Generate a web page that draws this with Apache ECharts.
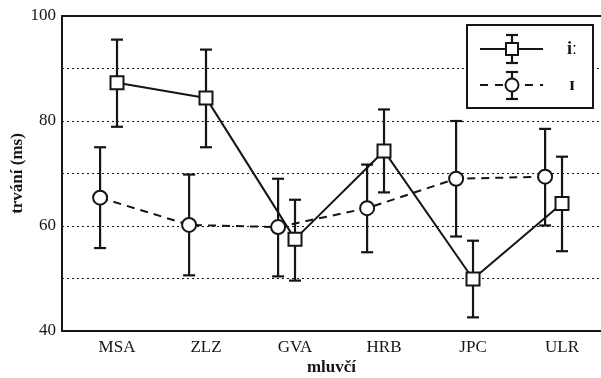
<!DOCTYPE html>
<html>
<head>
<meta charset="utf-8">
<script src="https://cdn.jsdelivr.net/npm/echarts@6/dist/echarts.min.js"></script>
<style>html,body{margin:0;padding:0;background:#fff;}#c{width:601px;height:378px;}</style>
</head>
<body>
<div id="c"></div>
<script>
const categories = ['MSA', 'ZLZ', 'GVA', 'HRB', 'JPC', 'ULR'];
const longI = [87.3, 84.4, 57.5, 74.3, 49.9, 64.3];
const longILow = [78.9, 75.0, 49.6, 66.4, 42.6, 55.2];
const longIHigh = [95.5, 93.6, 65.0, 82.2, 57.2, 73.2];
const shortI = [65.4, 60.2, 59.8, 63.4, 69.0, 69.4];
const shortILow = [55.8, 50.6, 50.4, 55.0, 58.0, 60.1];
const shortIHigh = [75.0, 69.8, 69.0, 71.7, 80.0, 78.5];
const yTickLabels = [40, 60, 80, 100];
const seriesNames = ['iː', 'ɪ'];

const FONT = 'Liberation Serif';
const INK = '#151515';
const SHIFT = -0.19; // horizontal offset of the ɪ series (style)

const catPos = categories.map((c, i) => i + 1);
const longData = longI.map((v, i) => [catPos[i], v]);
const shortData = shortI.map((v, i) => [catPos[i] + SHIFT, v]);
const longErr = longI.map((v, i) => [catPos[i], longILow[i], longIHigh[i]]);
const shortErr = shortI.map((v, i) => [catPos[i] + SHIFT, shortILow[i], shortIHigh[i]]);

function errRender(params, api) {
  const x = api.value(0);
  const lo = api.coord([x, api.value(1)]);
  const hi = api.coord([x, api.value(2)]);
  const hw = 6;
  const st = { stroke: INK, lineWidth: 2.2 };
  return {
    type: 'group',
    children: [
      { type: 'line', shape: { x1: lo[0], y1: lo[1], x2: hi[0], y2: hi[1] }, style: st },
      { type: 'line', shape: { x1: lo[0] - hw, y1: lo[1], x2: lo[0] + hw, y2: lo[1] }, style: st },
      { type: 'line', shape: { x1: hi[0] - hw, y1: hi[1], x2: hi[0] + hw, y2: hi[1] }, style: st }
    ]
  };
}

const chart = echarts.init(document.getElementById('c'), null, { renderer: 'canvas' });
const xMin = 0.382, xMax = 6.438;

const legendSt = { stroke: INK, lineWidth: 2.2 };
chart.setOption({
  animation: false,
  backgroundColor: '#fff',
  grid: { left: 62, right: 0, top: 16, bottom: 47, outerBoundsMode: 'none', containLabel: false },
  xAxis: [{
    type: 'value', min: xMin, max: xMax,
    name: 'mluvčí', nameLocation: 'middle', nameGap: 28, nameMoveOverlap: false,
    nameTextStyle: { fontFamily: FONT, fontWeight: 'bold', fontSize: 17, color: INK },
    axisLine: { show: true, onZero: false, lineStyle: { color: INK, width: 2 } },
    axisTick: { show: false },
    splitLine: { show: false },
    axisLabel: {
      customValues: catPos, margin: 8,
      fontFamily: FONT, fontSize: 17, color: INK,
      formatter: v => categories[Math.round(v) - 1] || ''
    }
  }, {
    type: 'value', min: xMin, max: xMax, position: 'top',
    axisLine: { show: true, onZero: false, lineStyle: { color: INK, width: 2 } },
    axisTick: { show: false }, axisLabel: { show: false }, splitLine: { show: false }
  }],
  yAxis: {
    type: 'value', min: 40, max: 100, interval: 10,
    name: 'trvání (ms)', nameLocation: 'middle', nameGap: 36, nameMoveOverlap: false,
    nameTextStyle: { fontFamily: FONT, fontWeight: 'bold', fontSize: 17, color: INK },
    axisLine: { show: true, lineStyle: { color: INK, width: 2 } },
    axisTick: { show: false },
    axisLabel: { customValues: yTickLabels, margin: 6, fontFamily: FONT, fontSize: 17, color: INK },
    splitLine: { show: true, lineStyle: { color: INK, width: 1, type: [2, 3] } }
  },
  series: [
    { type: 'custom', name: seriesNames[0] + ' err', renderItem: errRender, data: longErr, z: 2, encode: { x: 0, y: [1, 2] } },
    { type: 'custom', name: seriesNames[1] + ' err', renderItem: errRender, data: shortErr, z: 2, encode: { x: 0, y: [1, 2] } },
    {
      type: 'line', name: seriesNames[0], data: longData, z: 3,
      symbol: 'rect', symbolSize: 13,
      lineStyle: { color: INK, width: 2 },
      itemStyle: { color: '#fff', borderColor: INK, borderWidth: 2 }
    },
    {
      type: 'line', name: seriesNames[1], data: shortData, z: 3,
      symbol: 'circle', symbolSize: 14,
      lineStyle: { color: INK, width: 2, type: [8, 6] },
      itemStyle: { color: '#fff', borderColor: INK, borderWidth: 2 }
    }
  ],
  graphic: [
    { type: 'rect', shape: { x: 467, y: 25, width: 126, height: 83 }, style: { fill: '#fff', stroke: INK, lineWidth: 2 }, z: 10 },
    { type: 'line', shape: { x1: 480, y1: 49, x2: 543, y2: 49 }, style: legendSt, z: 11 },
    { type: 'line', shape: { x1: 512, y1: 35, x2: 512, y2: 63 }, style: legendSt, z: 11 },
    { type: 'line', shape: { x1: 506, y1: 35, x2: 518, y2: 35 }, style: legendSt, z: 11 },
    { type: 'line', shape: { x1: 506, y1: 63, x2: 518, y2: 63 }, style: legendSt, z: 11 },
    { type: 'rect', shape: { x: 506, y: 43, width: 12, height: 12 }, style: { fill: '#fff', stroke: INK, lineWidth: 2 }, z: 12 },
    { type: 'text', style: { text: seriesNames[0], x: 572, y: 49, align: 'center', verticalAlign: 'middle', font: 'bold 18px "Liberation Serif"', fill: INK }, z: 12 },
    { type: 'line', shape: { x1: 480, y1: 85, x2: 543, y2: 85 }, style: { stroke: INK, lineWidth: 2.2, lineDash: [8, 7] }, z: 11 },
    { type: 'line', shape: { x1: 512, y1: 72, x2: 512, y2: 99 }, style: legendSt, z: 11 },
    { type: 'line', shape: { x1: 506, y1: 72, x2: 518, y2: 72 }, style: legendSt, z: 11 },
    { type: 'line', shape: { x1: 506, y1: 99, x2: 518, y2: 99 }, style: legendSt, z: 11 },
    { type: 'circle', shape: { cx: 512, cy: 85, r: 6.5 }, style: { fill: '#fff', stroke: INK, lineWidth: 2 }, z: 12 },
    { type: 'text', style: { text: seriesNames[1], x: 572, y: 85, align: 'center', verticalAlign: 'middle', font: 'bold 18px "Liberation Serif"', fill: INK }, z: 12 }
  ]
});
</script>
</body>
</html>
